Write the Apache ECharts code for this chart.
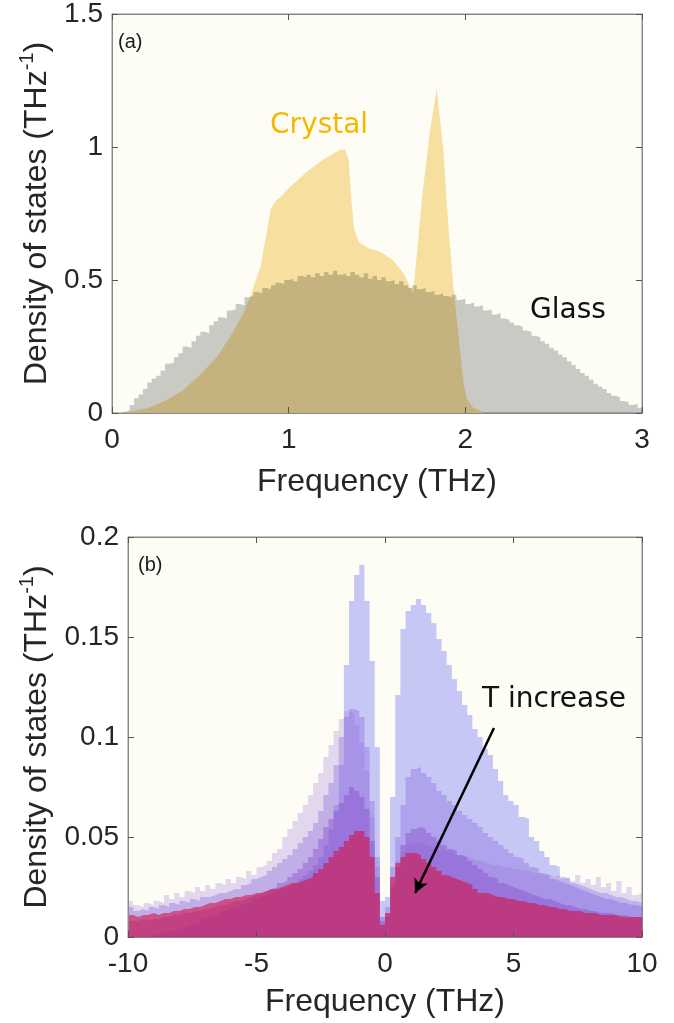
<!DOCTYPE html>
<html>
<head>
<meta charset="utf-8">
<script src="https://cdn.jsdelivr.net/npm/echarts@6/dist/echarts.min.js"></script>
<style>
  html, body { margin: 0; padding: 0; background: #ffffff; }
  #main { width: 674px; height: 1023px; }
</style>
</head>
<body>
<div id="main"></div>
<script>
// ---- panel (a): crystal vs glass DOS ----
const glassBinStart = 0;
const glassBinWidth = 0.025;
const glassDos = [
  0.0, 0.0, 0.005, 0.01, 0.03, 0.055, 0.07, 0.09, 0.115, 0.13,
  0.14, 0.16, 0.185, 0.19, 0.21, 0.225, 0.25, 0.245, 0.27, 0.29,
  0.305, 0.30, 0.33, 0.345, 0.36, 0.355, 0.385, 0.39, 0.41, 0.405,
  0.435, 0.44, 0.455, 0.45, 0.47, 0.465, 0.48, 0.49, 0.485, 0.50,
  0.505, 0.495, 0.515, 0.51, 0.52, 0.51, 0.525, 0.515, 0.53, 0.52,
  0.535, 0.52, 0.525, 0.515, 0.53, 0.52, 0.51, 0.525, 0.505, 0.515,
  0.50, 0.51, 0.495, 0.50, 0.485, 0.495, 0.48, 0.47, 0.48, 0.465,
  0.47, 0.455, 0.46, 0.445, 0.45, 0.44, 0.435, 0.445, 0.425, 0.43,
  0.41, 0.415, 0.40, 0.405, 0.385, 0.39, 0.37, 0.375, 0.355, 0.35,
  0.34, 0.33, 0.325, 0.31, 0.305, 0.29, 0.285, 0.27, 0.26, 0.245,
  0.235, 0.22, 0.21, 0.195, 0.18, 0.165, 0.15, 0.14, 0.125, 0.11,
  0.10, 0.09, 0.075, 0.065, 0.06, 0.045, 0.04, 0.03, 0.035, 0.02
];
const crystalFreq = [
  0.04, 0.1, 0.2, 0.3, 0.4, 0.5, 0.6, 0.68, 0.74, 0.79,
  0.84, 0.875, 0.90, 0.93, 0.96, 1.0, 1.05, 1.1, 1.15, 1.2,
  1.25, 1.29, 1.32, 1.34, 1.355, 1.37, 1.40, 1.45, 1.52, 1.59,
  1.65, 1.69, 1.705, 1.72, 1.76, 1.80, 1.838, 1.875, 1.90, 1.93,
  1.96, 1.99, 2.01, 2.045, 2.09, 2.105
];
const crystalDos = [
  0.0, 0.005, 0.018, 0.045, 0.085, 0.145, 0.215, 0.30, 0.37, 0.45,
  0.55, 0.675, 0.77, 0.80, 0.815, 0.845, 0.875, 0.905, 0.93, 0.955,
  0.975, 0.99, 0.99, 0.95, 0.80, 0.69, 0.64, 0.62, 0.605, 0.575,
  0.525, 0.47, 0.45, 0.56, 0.84, 1.06, 1.22, 0.99, 0.74, 0.49,
  0.30, 0.11, 0.05, 0.02, 0.007, 0.0
];

// ---- panel (b): DOS at increasing temperature (negative = imaginary) ----
const binStartB = -10;
const binWidthB = 0.2;
const dosT1 = [
  0, 0, 0, 0, 0.001, 0.001, 0.002, 0.003, 0.003, 0.004,
  0.005, 0.006, 0.007, 0.007, 0.009, 0.010, 0.011, 0.011, 0.013, 0.014,
  0.015, 0.016, 0.017, 0.017, 0.019, 0.020, 0.021, 0.022, 0.023, 0.024,
  0.025, 0.026, 0.027, 0.029, 0.031, 0.033, 0.036, 0.040, 0.046, 0.054,
  0.066, 0.086, 0.136, 0.168, 0.181, 0.186, 0.168, 0.138, 0.095, 0.018,
  0.020, 0.070, 0.121, 0.154, 0.163, 0.166, 0.169, 0.166, 0.162, 0.157,
  0.149, 0.143, 0.136, 0.129, 0.123, 0.116, 0.111, 0.104, 0.100, 0.094,
  0.091, 0.084, 0.078, 0.071, 0.068, 0.066, 0.060, 0.059, 0.050, 0.048,
  0.043, 0.040, 0.036, 0.035, 0.030, 0.029, 0.027, 0.026, 0.025, 0.024,
  0.023, 0.022, 0.022, 0.021, 0.020, 0.020, 0.019, 0.018, 0.018, 0.017
];
const dosT2 = [
  0.018, 0.016, 0.015, 0.017, 0.016, 0.018, 0.017, 0.021, 0.019, 0.022,
  0.020, 0.023, 0.022, 0.025, 0.023, 0.026, 0.024, 0.027, 0.026, 0.029,
  0.027, 0.030, 0.029, 0.033, 0.031, 0.035, 0.036, 0.038, 0.042, 0.044,
  0.050, 0.054, 0.058, 0.062, 0.066, 0.071, 0.077, 0.082, 0.090, 0.096,
  0.103, 0.109, 0.113, 0.112, 0.106, 0.097, 0.083, 0.060, 0.035, 0.010,
  0.012, 0.028, 0.038, 0.043, 0.046, 0.047, 0.047, 0.046, 0.045, 0.044,
  0.043, 0.043, 0.042, 0.041, 0.040, 0.040, 0.039, 0.038, 0.038, 0.037,
  0.036, 0.036, 0.035, 0.035, 0.034, 0.034, 0.033, 0.033, 0.032, 0.032,
  0.031, 0.031, 0.030, 0.031, 0.029, 0.030, 0.028, 0.031, 0.027, 0.029,
  0.026, 0.030, 0.025, 0.027, 0.023, 0.028, 0.022, 0.025, 0.021, 0.022
];
const dosT3 = [
  0.015, 0.013, 0.014, 0.013, 0.015, 0.014, 0.016, 0.015, 0.017, 0.016,
  0.018, 0.017, 0.019, 0.018, 0.020, 0.020, 0.021, 0.022, 0.022, 0.023,
  0.024, 0.024, 0.026, 0.027, 0.029, 0.030, 0.031, 0.033, 0.035, 0.037,
  0.039, 0.041, 0.044, 0.047, 0.050, 0.053, 0.057, 0.063, 0.071, 0.077,
  0.086, 0.100, 0.110, 0.114, 0.113, 0.110, 0.095, 0.068, 0.040, 0.010,
  0.015, 0.035, 0.050, 0.066, 0.080, 0.084, 0.085, 0.082, 0.080, 0.077,
  0.073, 0.071, 0.068, 0.066, 0.063, 0.061, 0.059, 0.057, 0.055, 0.052,
  0.050, 0.048, 0.046, 0.044, 0.042, 0.040, 0.039, 0.037, 0.035, 0.034,
  0.032, 0.031, 0.029, 0.028, 0.027, 0.026, 0.025, 0.024, 0.023, 0.022,
  0.021, 0.020, 0.019, 0.019, 0.018, 0.017, 0.017, 0.016, 0.016, 0.015
];
const dosT4 = [
  0.008, 0.008, 0.009, 0.008, 0.009, 0.009, 0.010, 0.010, 0.011, 0.011,
  0.012, 0.012, 0.013, 0.013, 0.014, 0.014, 0.015, 0.016, 0.016, 0.017,
  0.018, 0.018, 0.019, 0.020, 0.021, 0.022, 0.023, 0.024, 0.025, 0.027,
  0.028, 0.030, 0.032, 0.034, 0.037, 0.040, 0.044, 0.049, 0.055, 0.059,
  0.063, 0.067, 0.071, 0.075, 0.073, 0.070, 0.064, 0.048, 0.030, 0.008,
  0.010, 0.025, 0.035, 0.046, 0.052, 0.054, 0.055, 0.054, 0.052, 0.050,
  0.048, 0.046, 0.044, 0.043, 0.041, 0.040, 0.038, 0.036, 0.034, 0.032,
  0.030, 0.029, 0.027, 0.026, 0.025, 0.024, 0.023, 0.022, 0.021, 0.020,
  0.019, 0.019, 0.018, 0.017, 0.016, 0.016, 0.015, 0.014, 0.014, 0.013,
  0.013, 0.012, 0.012, 0.012, 0.011, 0.011, 0.011, 0.010, 0.010, 0.010
];
const dosT5 = [
  0.011, 0.010, 0.011, 0.011, 0.012, 0.011, 0.012, 0.012, 0.013, 0.013,
  0.014, 0.014, 0.015, 0.015, 0.016, 0.017, 0.017, 0.018, 0.019, 0.019,
  0.020, 0.020, 0.021, 0.021, 0.022, 0.022, 0.023, 0.024, 0.024, 0.025,
  0.026, 0.027, 0.027, 0.028, 0.029, 0.030, 0.032, 0.034, 0.037, 0.040,
  0.043, 0.045, 0.048, 0.051, 0.053, 0.053, 0.050, 0.040, 0.022, 0.006,
  0.012, 0.030, 0.037, 0.040, 0.042, 0.042, 0.041, 0.039, 0.037, 0.035,
  0.033, 0.031, 0.030, 0.029, 0.028, 0.027, 0.026, 0.024, 0.022, 0.022,
  0.021, 0.020, 0.020, 0.019, 0.019, 0.018, 0.018, 0.017, 0.017, 0.016,
  0.016, 0.015, 0.015, 0.014, 0.014, 0.013, 0.013, 0.013, 0.012, 0.012,
  0.012, 0.011, 0.011, 0.011, 0.011, 0.010, 0.010, 0.010, 0.010, 0.010
];
const arrowFrom = [4.24, 0.1045];
const arrowTo = [1.17, 0.022];

const ticksA = { xMin: 0, xMax: 3, xStep: 1, yMin: 0, yMax: 1.5, yStep: 0.5 };
const ticksB = { xMin: -10, xMax: 10, xStep: 5, yMin: 0, yMax: 0.2, yStep: 0.05 };

const textColor = '#262626';
const boxColor = '#888888';
const plotBg = '#fdfdf6';
const tickFont = 'Liberation Sans';
const noteFont = 'DejaVu Sans';

// histogram as a step outline: one point per bin edge
function histPoints(start, width, values) {
    const pts = values.map((v, i) => [start + i * width, v]);
    pts.push([start + values.length * width, values[values.length - 1]]);
    return pts;
}

function histSeries(values, start, width, color, axis) {
    return {
        type: 'line',
        step: 'end',
        xAxisIndex: axis,
        yAxisIndex: axis,
        symbol: 'none',
        silent: true,
        lineStyle: { width: 0, opacity: 0 },
        areaStyle: { color: color, opacity: 1 },
        data: histPoints(start, width, values)
    };
}

function mainX(grid, t, gap) {
    return {
        type: 'value', gridIndex: grid, position: 'bottom', z: 5,
        min: t.xMin, max: t.xMax, interval: t.xStep,
        name: 'Frequency (THz)', nameLocation: 'middle', nameGap: gap,
        nameTextStyle: { fontFamily: tickFont, fontSize: 32, color: textColor },
        axisLine: { show: true, onZero: false, lineStyle: { color: boxColor, width: 1 } },
        axisTick: { show: true, inside: true, length: 6, lineStyle: { color: '#555' } },
        axisLabel: { fontFamily: tickFont, fontSize: 28, color: textColor, margin: 13 },
        splitLine: { show: false }
    };
}

function boxX(grid, t) {
    return {
        type: 'value', gridIndex: grid, position: 'top', z: 5,
        min: t.xMin, max: t.xMax, interval: t.xStep,
        axisLine: { show: true, onZero: false, lineStyle: { color: boxColor, width: 1 } },
        axisTick: { show: true, inside: true, length: 6, lineStyle: { color: '#555' } },
        axisLabel: { show: false },
        splitLine: { show: false }
    };
}

function mainY(grid, t, gap) {
    return {
        type: 'value', gridIndex: grid, position: 'left', z: 5,
        min: t.yMin, max: t.yMax, interval: t.yStep,
        name: '{n|Density of states (THz}{s|-1}{n|)}',
        nameLocation: 'middle', nameRotate: 90, nameGap: gap,
        nameTextStyle: {
            rich: {
                n: { fontFamily: tickFont, fontSize: 32, color: textColor, lineHeight: 40 },
                s: { fontFamily: tickFont, fontSize: 20, color: textColor, verticalAlign: 'top', lineHeight: 40 }
            }
        },
        axisLine: { show: true, onZero: false, lineStyle: { color: boxColor, width: 1 } },
        axisTick: { show: true, inside: true, length: 6, lineStyle: { color: '#555' } },
        axisLabel: { fontFamily: tickFont, fontSize: 28, color: textColor, margin: 9 },
        splitLine: { show: false }
    };
}

function boxY(grid, t) {
    return {
        type: 'value', gridIndex: grid, position: 'right', z: 5,
        min: t.yMin, max: t.yMax, interval: t.yStep,
        axisLine: { show: true, onZero: false, lineStyle: { color: boxColor, width: 1 } },
        axisTick: { show: true, inside: true, length: 6, lineStyle: { color: '#555' } },
        axisLabel: { show: false },
        splitLine: { show: false }
    };
}

function note(text, x, y, size, color, family) {
    return {
        type: 'text', x: x, y: y, z: 20,
        style: { text: text, fontFamily: family, fontSize: size, fill: color, align: 'left', verticalAlign: 'middle' }
    };
}

const chartDom = document.getElementById('main');
const myChart = echarts.init(chartDom, null, { renderer: 'canvas' });

const crystalPoints = crystalFreq.map((f, i) => [f, crystalDos[i]]);

const pinkSeries = histSeries(dosT5, binStartB, binWidthB, 'rgba(210,20,70,0.60)', 2);
pinkSeries.markLine = {
    silent: true,
    symbol: ['none', 'arrow'],
    symbolSize: [11, 14],
    label: { show: false },
    lineStyle: { color: '#000', width: 2.5, type: 'solid' },
    data: [[{ coord: arrowFrom }, { coord: arrowTo }]]
};

const option = {
    animation: false,
    backgroundColor: '#ffffff',
    grid: [
        { left: 112, top: 14, width: 530, height: 399, show: true, backgroundColor: plotBg, borderColor: boxColor, borderWidth: 1 },
        { left: 128, top: 537, width: 514, height: 400, show: true, backgroundColor: plotBg, borderColor: boxColor, borderWidth: 1 }
    ],
    xAxis: [mainX(0, ticksA, 53), boxX(0, ticksA), mainX(1, ticksB, 49), boxX(1, ticksB)],
    yAxis: [mainY(0, ticksA, 55), boxY(0, ticksA), mainY(1, ticksB, 71), boxY(1, ticksB)],
    series: [
        {
            type: 'line', xAxisIndex: 0, yAxisIndex: 0, symbol: 'none', silent: true,
            lineStyle: { width: 0, opacity: 0 },
            areaStyle: { color: '#f6df9f', opacity: 1 },
            data: crystalPoints
        },
        histSeries(glassDos, glassBinStart, glassBinWidth, 'rgba(0,0,0,0.2)', 0),
        histSeries(dosT1, binStartB, binWidthB, 'rgba(110,110,245,0.38)', 2),
        histSeries(dosT2, binStartB, binWidthB, 'rgba(170,130,215,0.30)', 2),
        histSeries(dosT3, binStartB, binWidthB, 'rgba(120,80,220,0.30)', 2),
        histSeries(dosT4, binStartB, binWidthB, 'rgba(120,50,190,0.32)', 2),
        pinkSeries
    ],
    graphic: [
        note('(a)', 118, 42, 20, '#1a1a1a', tickFont),
        note('Crystal', 270, 126, 28, '#f4b800', noteFont),
        note('Glass', 530, 311, 28, '#111111', noteFont),
        note('(b)', 138, 565, 20, '#1a1a1a', tickFont),
        note('T increase', 482, 700, 28, '#111111', noteFont)
    ]
};

option && myChart.setOption(option);
</script>
</body>
</html>
